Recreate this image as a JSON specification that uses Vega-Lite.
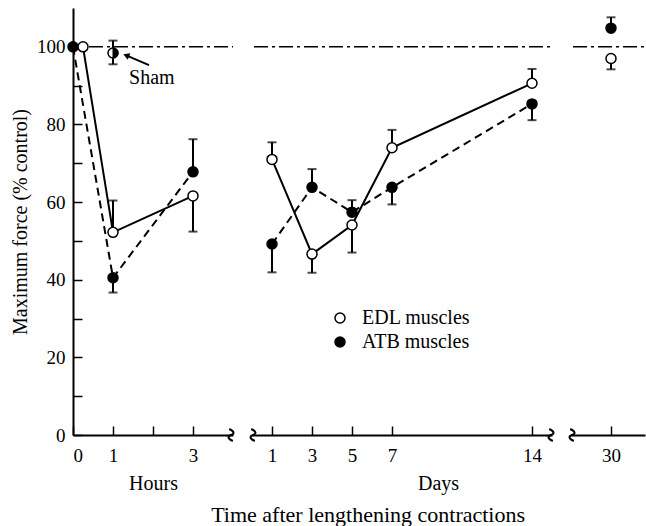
{
  "$schema": "https://vega.github.io/schema/vega-lite/v6.json",
  "padding": {"left": 10, "top": 8, "right": 0, "bottom": 0},
  "spacing": 19,
  "bounds": "flush",
  "title": {"text": "Time after lengthening contractions", "orient": "bottom", "anchor": "middle", "font": "Liberation Serif", "fontSize": 22, "fontWeight": "normal", "color": "black", "dx": 40, "offset": 12},
  "datasets": {
    "pts": [
      {"panel": "h", "t": 0, "group": "ATB muscles", "v": 100, "err": null},
      {"panel": "h", "t": 0.25, "group": "EDL muscles", "v": 100, "err": null},
      {"panel": "h", "t": 1, "group": "EDL muscles", "v": 52.2, "err": 60.4},
      {"panel": "h", "t": 1, "group": "ATB muscles", "v": 40.5, "err": 36.7},
      {"panel": "h", "t": 3, "group": "EDL muscles", "v": 61.6, "err": 52.4},
      {"panel": "h", "t": 3, "group": "ATB muscles", "v": 67.8, "err": 76.2},
      {"panel": "d", "t": 1, "group": "EDL muscles", "v": 71.0, "err": 75.4},
      {"panel": "d", "t": 1, "group": "ATB muscles", "v": 49.2, "err": 41.9},
      {"panel": "d", "t": 3, "group": "EDL muscles", "v": 46.6, "err": 41.8},
      {"panel": "d", "t": 3, "group": "ATB muscles", "v": 63.8, "err": 68.5},
      {"panel": "d", "t": 5, "group": "EDL muscles", "v": 54.1, "err": 47.0},
      {"panel": "d", "t": 5, "group": "ATB muscles", "v": 57.4, "err": 60.5},
      {"panel": "d", "t": 7, "group": "EDL muscles", "v": 74.0, "err": 78.6},
      {"panel": "d", "t": 7, "group": "ATB muscles", "v": 63.8, "err": 59.4},
      {"panel": "d", "t": 14, "group": "EDL muscles", "v": 90.6, "err": 94.3},
      {"panel": "d", "t": 14, "group": "ATB muscles", "v": 85.3, "err": 81.1},
      {"panel": "m", "t": 30, "group": "EDL muscles", "v": 97.0, "err": 94.2},
      {"panel": "m", "t": 30, "group": "ATB muscles", "v": 104.8, "err": 107.6}
    ],
    "ref": [
      {"panel": "h", "t": 0.4, "t1": 4, "v": 100},
      {"panel": "d", "t": 0.1, "t1": 15, "v": 100},
      {"panel": "m", "t": 28.1, "t1": 31.7, "v": 100}
    ],
    "brk": [
      {"panel": "h", "t": 3.95, "v": 0},
      {"panel": "d", "t": 0.05, "v": 0},
      {"panel": "d", "t": 14.95, "v": 0},
      {"panel": "m", "t": 28.05, "v": 0}
    ],
    "sham": [
      {"t": 1, "v": 98.4, "err": 101.6, "lo": 95.5}
    ],
    "note": [
      {"t": 1.97, "v": 92, "label": "Sham"}
    ],
    "arrow": [
      {"t": 1.9, "v": 95.3, "t1": 1.33, "v1": 97.8}
    ]
  },
  "hconcat": [
    {
      "width": 160,
      "height": 427,
      "encoding": {
        "x": {"field": "t", "type": "quantitative", "scale": {"domain": [0, 4], "nice": false, "zero": false},
              "axis": {"values": [0, 1, 2, 3], "labelExpr": "datum.value == 2 ? '' : datum.label", "title": "Hours", "grid": false, "titlePadding": 8}},
        "y": {"field": "v", "type": "quantitative", "scale": {"domain": [0, 110], "nice": false},
              "axis": {"values": [0, 10, 20, 30, 40, 50, 60, 70, 80, 90, 100], "labelExpr": "datum.value % 20 == 0 ? datum.label : ''", "title": "Maximum force (% control)", "grid": false, "titlePadding": 6}}
      },
      "layer": [
        {"data": {"name": "ref"}, "transform": [{"filter": "datum.panel == 'h'"}],
         "mark": {"type": "rule", "color": "black", "strokeWidth": 1.5, "strokeDash": [14, 4, 3, 4]},
         "encoding": {"x2": {"field": "t1"}}},
        {"data": {"name": "pts"}, "transform": [{"filter": "datum.panel == 'h' && datum.group == 'EDL muscles'"}],
         "mark": {"type": "line", "color": "black", "strokeWidth": 2},
         "encoding": {"order": {"field": "t"}}},
        {"data": {"name": "pts"}, "transform": [{"filter": "datum.panel == 'h' && datum.group == 'ATB muscles'"}],
         "mark": {"type": "line", "color": "black", "strokeWidth": 2, "strokeDash": [8, 5]},
         "encoding": {"order": {"field": "t"}}},
        {"data": {"name": "pts"}, "transform": [{"filter": "datum.panel == 'h' && datum.err != null"}],
         "mark": {"type": "rule", "color": "black", "strokeWidth": 2},
         "encoding": {"y2": {"field": "err"}}},
        {"data": {"name": "pts"}, "transform": [{"filter": "datum.panel == 'h' && datum.err != null"}],
         "mark": {"type": "tick", "orient": "horizontal", "color": "black", "size": 9, "thickness": 2},
         "encoding": {"y": {"field": "err", "type": "quantitative"}}},
        {"data": {"name": "sham"},
         "mark": {"type": "rule", "color": "black", "strokeWidth": 2},
         "encoding": {"y": {"field": "lo", "type": "quantitative"}, "y2": {"field": "err"}}},
        {"data": {"name": "sham"},
         "mark": {"type": "tick", "orient": "horizontal", "color": "black", "size": 9, "thickness": 2},
         "encoding": {"y": {"field": "err", "type": "quantitative"}}},
        {"data": {"name": "sham"},
         "mark": {"type": "tick", "orient": "horizontal", "color": "black", "size": 9, "thickness": 2},
         "encoding": {"y": {"field": "lo", "type": "quantitative"}}},
        {"data": {"name": "sham"},
         "mark": {"type": "point", "shape": "circle", "filled": true, "fill": "white", "stroke": "black", "strokeWidth": 1.5, "size": 100, "opacity": 1}},
        {"data": {"name": "sham"},
         "mark": {"type": "point", "shape": "M0,-1 A1,1 0 0,1 0,1 Z", "filled": true, "fill": "black", "stroke": "black", "strokeWidth": 1, "size": 100, "opacity": 1}},
        {"data": {"name": "pts"}, "transform": [{"filter": "datum.panel == 'h'"}],
         "mark": {"type": "point", "shape": "circle", "filled": true, "stroke": "black", "strokeWidth": 1.5, "size": 100, "opacity": 1},
         "encoding": {"fill": {"field": "group", "type": "nominal", "scale": {"domain": ["EDL muscles", "ATB muscles"], "range": ["white", "black"]},
                               "legend": {"orient": "none", "legendX": 257, "legendY": 300, "title": null, "padding": 0, "labelFont": "Liberation Serif", "labelFontSize": 20, "labelColor": "black", "symbolType": "circle", "symbolSize": 100, "symbolStrokeColor": "black", "symbolStrokeWidth": 1.5, "labelOffset": 12, "rowPadding": 4, "labelLimit": 300}}}},
        {"data": {"name": "note"},
         "mark": {"type": "text", "font": "Liberation Serif", "fontSize": 20, "color": "black", "align": "center", "baseline": "middle"},
         "encoding": {"text": {"field": "label"}}},
        {"data": {"name": "arrow"},
         "mark": {"type": "rule", "color": "black", "strokeWidth": 2},
         "encoding": {"x2": {"field": "t1"}, "y2": {"field": "v1"}}},
        {"data": {"name": "arrow"},
         "mark": {"type": "point", "shape": "triangle-left", "filled": true, "color": "black", "size": 50, "angle": 22, "opacity": 1},
         "encoding": {"x": {"field": "t1", "type": "quantitative"}, "y": {"field": "v1", "type": "quantitative"}}},
        {"data": {"name": "brk"}, "transform": [{"filter": "datum.panel == 'h'"}],
         "mark": {"type": "point", "shape": "M-0.3,-1 C0.6,-0.6 0.6,-0.2 0,0 C-0.6,0.2 -0.6,0.6 0.3,1", "filled": false, "stroke": "black", "strokeWidth": 2, "size": 144, "opacity": 1}}
      ]
    },
    {
      "width": 300,
      "height": 427,
      "encoding": {
        "x": {"field": "t", "type": "quantitative", "scale": {"domain": [0, 15], "nice": false, "zero": false},
              "axis": {"values": [1, 3, 5, 7, 14], "title": "Days", "titleX": 186, "grid": false, "titlePadding": 8}},
        "y": {"field": "v", "type": "quantitative", "scale": {"domain": [0, 110], "nice": false}, "axis": null}
      },
      "layer": [
        {"data": {"name": "ref"}, "transform": [{"filter": "datum.panel == 'd'"}],
         "mark": {"type": "rule", "color": "black", "strokeWidth": 1.5, "strokeDash": [14, 4, 3, 4]},
         "encoding": {"x2": {"field": "t1"}}},
        {"data": {"name": "pts"}, "transform": [{"filter": "datum.panel == 'd' && datum.group == 'EDL muscles'"}],
         "mark": {"type": "line", "color": "black", "strokeWidth": 2},
         "encoding": {"order": {"field": "t"}}},
        {"data": {"name": "pts"}, "transform": [{"filter": "datum.panel == 'd' && datum.group == 'ATB muscles'"}],
         "mark": {"type": "line", "color": "black", "strokeWidth": 2, "strokeDash": [8, 5]},
         "encoding": {"order": {"field": "t"}}},
        {"data": {"name": "pts"}, "transform": [{"filter": "datum.panel == 'd' && datum.err != null"}],
         "mark": {"type": "rule", "color": "black", "strokeWidth": 2},
         "encoding": {"y2": {"field": "err"}}},
        {"data": {"name": "pts"}, "transform": [{"filter": "datum.panel == 'd' && datum.err != null"}],
         "mark": {"type": "tick", "orient": "horizontal", "color": "black", "size": 9, "thickness": 2},
         "encoding": {"y": {"field": "err", "type": "quantitative"}}},
        {"data": {"name": "pts"}, "transform": [{"filter": "datum.panel == 'd'"}],
         "mark": {"type": "point", "shape": "circle", "filled": true, "stroke": "black", "strokeWidth": 1.5, "size": 100, "opacity": 1},
         "encoding": {"fill": {"field": "group", "type": "nominal", "scale": {"domain": ["EDL muscles", "ATB muscles"], "range": ["white", "black"]},
                               "legend": {"orient": "none", "legendX": 257, "legendY": 300, "title": null, "padding": 0, "labelFont": "Liberation Serif", "labelFontSize": 20, "labelColor": "black", "symbolType": "circle", "symbolSize": 100, "symbolStrokeColor": "black", "symbolStrokeWidth": 1.5, "labelOffset": 12, "rowPadding": 4, "labelLimit": 300}}}},
        {"data": {"name": "brk"}, "transform": [{"filter": "datum.panel == 'd'"}],
         "mark": {"type": "point", "shape": "M-0.3,-1 C0.6,-0.6 0.6,-0.2 0,0 C-0.6,0.2 -0.6,0.6 0.3,1", "filled": false, "stroke": "black", "strokeWidth": 2, "size": 144, "opacity": 1}}
      ]
    },
    {
      "width": 74,
      "height": 427,
      "encoding": {
        "x": {"field": "t", "type": "quantitative", "scale": {"domain": [28, 31.7], "nice": false, "zero": false},
              "axis": {"values": [30], "title": null, "grid": false}},
        "y": {"field": "v", "type": "quantitative", "scale": {"domain": [0, 110], "nice": false}, "axis": null}
      },
      "layer": [
        {"data": {"name": "ref"}, "transform": [{"filter": "datum.panel == 'm'"}],
         "mark": {"type": "rule", "color": "black", "strokeWidth": 1.5, "strokeDash": [14, 4, 3, 4]},
         "encoding": {"x2": {"field": "t1"}}},
        {"data": {"name": "pts"}, "transform": [{"filter": "datum.panel == 'm'"}],
         "mark": {"type": "rule", "color": "black", "strokeWidth": 2},
         "encoding": {"y2": {"field": "err"}}},
        {"data": {"name": "pts"}, "transform": [{"filter": "datum.panel == 'm'"}],
         "mark": {"type": "tick", "orient": "horizontal", "color": "black", "size": 9, "thickness": 2},
         "encoding": {"y": {"field": "err", "type": "quantitative"}}},
        {"data": {"name": "pts"}, "transform": [{"filter": "datum.panel == 'm'"}],
         "mark": {"type": "point", "shape": "circle", "filled": true, "stroke": "black", "strokeWidth": 1.5, "size": 100, "opacity": 1},
         "encoding": {"fill": {"field": "group", "type": "nominal", "scale": {"domain": ["EDL muscles", "ATB muscles"], "range": ["white", "black"]},
                               "legend": {"orient": "none", "legendX": 257, "legendY": 300, "title": null, "padding": 0, "labelFont": "Liberation Serif", "labelFontSize": 20, "labelColor": "black", "symbolType": "circle", "symbolSize": 100, "symbolStrokeColor": "black", "symbolStrokeWidth": 1.5, "labelOffset": 12, "rowPadding": 4, "labelLimit": 300}}}},
        {"data": {"name": "brk"}, "transform": [{"filter": "datum.panel == 'm'"}],
         "mark": {"type": "point", "shape": "M-0.3,-1 C0.6,-0.6 0.6,-0.2 0,0 C-0.6,0.2 -0.6,0.6 0.3,1", "filled": false, "stroke": "black", "strokeWidth": 2, "size": 144, "opacity": 1}}
      ]
    }
  ],
  "resolve": {"scale": {"fill": "shared"}, "legend": {"fill": "shared"}},
  "config": {
    "font": "Liberation Serif",
    "view": {"stroke": null},
    "axis": {"labelFont": "Liberation Serif", "labelFontSize": 19, "labelColor": "black", "titleFont": "Liberation Serif", "titleFontSize": 20, "titleFontWeight": "normal", "titleColor": "black",
             "domainColor": "black", "domainWidth": 2, "tickColor": "black", "tickWidth": 1.5, "tickSize": -9, "labelPadding": 17},
    "axisX": {"labelPadding": 20}
  }
}
